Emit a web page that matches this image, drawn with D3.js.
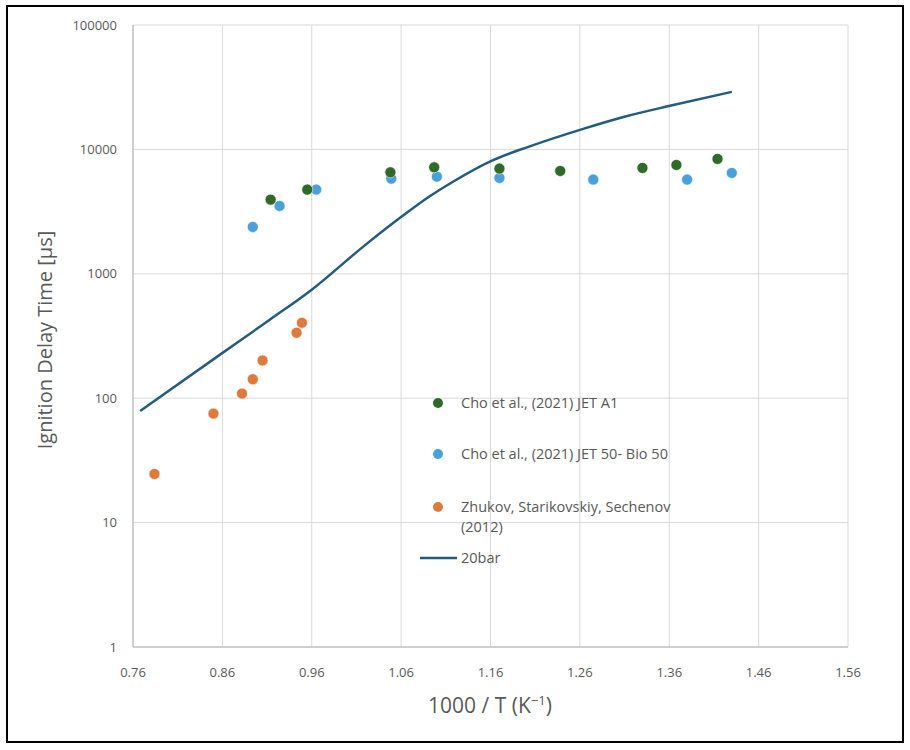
<!DOCTYPE html>
<html>
<head>
<script src="https://d3js.org/d3.v7.min.js"></script>
<style>
  body { margin: 0; background: #fff; }
  text { font-family: "Open Sans", sans-serif; fill: #595959; }
</style>
</head>
<body>
<svg width=910 height=750></svg>
<script>
// tick values
const xTicks = [0.76, 0.86, 0.96, 1.06, 1.16, 1.26, 1.36, 1.46, 1.56];
const yTicks = [1, 10, 100, 1000, 10000, 100000];

// Cho et al. (2021) JET A1
const jetA1X = [0.914, 0.955, 1.048, 1.097, 1.170, 1.238, 1.330, 1.368, 1.414];
const jetA1Y = [3945, 4750, 6540, 7180, 7010, 6710, 7100, 7500, 8390];

// Cho et al. (2021) JET 50- Bio 50
const bioX = [0.894, 0.924, 0.965, 1.049, 1.100, 1.170, 1.275, 1.380, 1.430];
const bioY = [2380, 3510, 4750, 5820, 6040, 5900, 5720, 5720, 6470];

// Zhukov, Starikovskiy, Sechenov (2012)
const zhukovX = [0.784, 0.850, 0.882, 0.894, 0.905, 0.943, 0.949];
const zhukovY = [24.6, 75.3, 109, 142, 201, 336, 404];

// 20bar simulation
const barX = [0.768, 0.857, 0.913, 0.960, 1.018, 1.061, 1.092, 1.118, 1.161, 1.204, 1.261, 1.312, 1.362, 1.430];
const barY = [79, 223, 427, 745, 1662, 2896, 4200, 5500, 8100, 10590, 14430, 18470, 22500, 29000];

const svg = d3.select("svg");
const plotL = 133, plotR = 848, plotT = 25, plotB = 647;

const x = d3.scaleLinear().domain([0.76, 1.56]).range([plotL, plotR]);
const y = d3.scaleLog().domain([1, 100000]).range([plotB, plotT]);

// frame
svg.append("rect")
  .attr("x", 7).attr("y", 6).attr("width", 896).attr("height", 736)
  .attr("fill", "none").attr("stroke", "#000").attr("stroke-width", 2);

// gridlines
svg.append("g").selectAll("line").data(xTicks.slice(1)).join("line")
  .attr("x1", d => x(d)).attr("x2", d => x(d))
  .attr("y1", plotT).attr("y2", plotB)
  .attr("stroke", "#d9d9d9").attr("stroke-width", 1);
svg.append("g").selectAll("line").data(yTicks.slice(1)).join("line")
  .attr("x1", plotL).attr("x2", plotR)
  .attr("y1", d => y(d)).attr("y2", d => y(d))
  .attr("stroke", "#d9d9d9").attr("stroke-width", 1);

// axes lines
svg.append("line").attr("x1", plotL).attr("x2", plotL).attr("y1", plotT).attr("y2", plotB)
  .attr("stroke", "#bfbfbf").attr("stroke-width", 1.5);
svg.append("line").attr("x1", plotL).attr("x2", plotR).attr("y1", plotB).attr("y2", plotB)
  .attr("stroke", "#bfbfbf").attr("stroke-width", 1.5);

// tick labels
svg.append("g").selectAll("text").data(yTicks).join("text")
  .attr("x", 117).attr("y", d => y(d) + 4.5)
  .attr("text-anchor", "end")
  .style("font-size", "13px")
  .text(d => d);
svg.append("g").selectAll("text").data(xTicks).join("text")
  .attr("x", d => x(d)).attr("y", 677)
  .attr("text-anchor", "middle")
  .style("font-size", "13px")
  .text(d => d.toFixed(2));

// axis titles
svg.append("text")
  .attr("transform", "translate(52,340) rotate(-90)")
  .attr("text-anchor", "middle")
  .style("font-size", "20px")
  .text("Ignition Delay Time [µs]");

const xt = svg.append("text")
  .attr("x", 490).attr("y", 713)
  .attr("text-anchor", "middle")
  .style("font-size", "21px");
xt.append("tspan").text("1000 / T (K");
xt.append("tspan").text("−1").attr("dy", -8).style("font-size", "13px");
xt.append("tspan").text(")").attr("dy", 8);

// 20bar line
const line = d3.line().x(d => x(d[0])).y(d => y(d[1])).curve(d3.curveMonotoneX);
svg.append("path")
  .datum(d3.zip(barX, barY))
  .attr("d", line)
  .attr("fill", "none")
  .attr("stroke", "#235d7e")
  .attr("stroke-width", 2.5);

function dots(xs, ys, color) {
  svg.append("g").selectAll("circle").data(d3.zip(xs, ys)).join("circle")
    .attr("cx", d => x(d[0])).attr("cy", d => y(d[1]))
    .attr("r", 5.5)
    .attr("fill", color)
    .attr("stroke", "#fff").attr("stroke-width", 0.6);
}
dots(zhukovX, zhukovY, "#de7a3e");
dots(bioX, bioY, "#4aa0d8");
dots(jetA1X, jetA1Y, "#2f6a28");

// legend
const legend = [
  { label: ["Cho et al., (2021) JET A1"], color: "#2f6a28", yy: 403 },
  { label: ["Cho et al., (2021) JET 50- Bio 50"], color: "#4aa0d8", yy: 454 },
  { label: ["Zhukov, Starikovskiy, Sechenov", "(2012)"], color: "#de7a3e", yy: 507 }
];
legend.forEach(l => {
  svg.append("circle").attr("cx", 438).attr("cy", l.yy).attr("r", 5).attr("fill", l.color);
  l.label.forEach((t, i) => {
    svg.append("text").attr("x", 461).attr("y", l.yy + 5 + i * 20)
      .style("font-size", "14.5px").text(t);
  });
});
svg.append("line").attr("x1", 420).attr("x2", 457).attr("y1", 558).attr("y2", 558)
  .attr("stroke", "#235d7e").attr("stroke-width", 2.5);
svg.append("text").attr("x", 461).attr("y", 563).style("font-size", "14.5px").text("20bar");
</script>
</body>
</html>
